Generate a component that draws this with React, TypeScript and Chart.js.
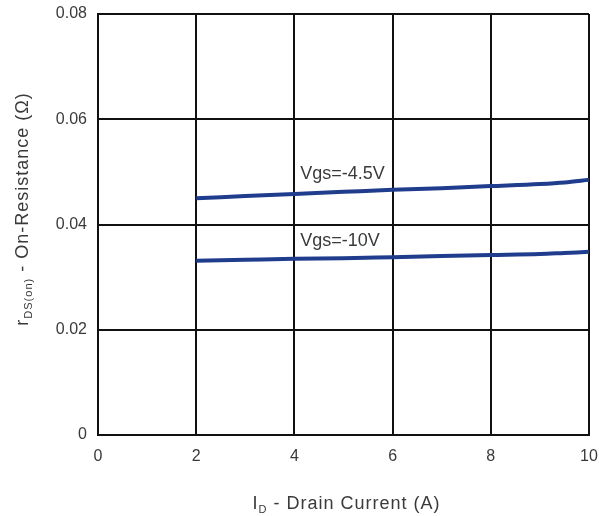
import React, { useEffect, useRef } from "react";
import { Chart, registerables } from "chart.js";

Chart.register(...registerables);

const currents = [2, 3, 4, 5, 6, 7, 8, 9, 9.5, 10];
const vgs45 = [0.0450, 0.0454, 0.0458, 0.0462, 0.0466, 0.0469, 0.0473, 0.0477, 0.0480, 0.0485];
const vgs10 = [0.0331, 0.0333, 0.0335, 0.0336, 0.0338, 0.0340, 0.0342, 0.0344, 0.0346, 0.0348];
const xTicks = [0, 2, 4, 6, 8, 10];
const yTicks = [0, 0.02, 0.04, 0.06, 0.08];
const seriesLabels = ["Vgs=-4.5V", "Vgs=-10V"];
const labelAnchors = [
  { x: 4.12, y: 0.0495 },
  { x: 4.12, y: 0.0369 },
];

const FONT = "'Liberation Sans', Arial, sans-serif";
const LINE_COLOR = "#1f3d8c";
const TEXT_COLOR = "#3a3a3a";

function drawSubText(ctx: any, parts: { t: string; sub: boolean }[], startX: number, baseY: number) {
  let p = startX;
  for (const part of parts) {
    ctx.font = part.sub ? `11px ${FONT}` : `18px ${FONT}`;
    ctx.fillText(part.t, p, part.sub ? baseY + 4 : baseY);
    p += ctx.measureText(part.t).width;
  }
}

function measureParts(ctx: any, parts: { t: string; sub: boolean }[]) {
  let w = 0;
  for (const part of parts) {
    ctx.font = part.sub ? `11px ${FONT}` : `18px ${FONT}`;
    w += ctx.measureText(part.t).width;
  }
  return w;
}

const xTitleParts = [
  { t: "I", sub: false },
  { t: "D", sub: true },
  { t: " - Drain Current (A)", sub: false },
];
const yTitleParts = [
  { t: "r", sub: false },
  { t: "DS(on)", sub: true },
  { t: " - On-Resistance (\u03A9)", sub: false },
];

const annotationPlugin = {
  id: "annots",
  afterDraw(chart: any) {
    const ctx = chart.ctx;
    const xs = chart.scales.x;
    const ys = chart.scales.y;
    const area = chart.chartArea;
    ctx.save();
    ctx.fillStyle = TEXT_COLOR;
    ctx.font = `18px ${FONT}`;
    ctx.textAlign = "left";
    ctx.textBaseline = "middle";
    seriesLabels.forEach((t, i) => {
      ctx.fillText(t, xs.getPixelForValue(labelAnchors[i].x), ys.getPixelForValue(labelAnchors[i].y));
    });

    ctx.textBaseline = "alphabetic";
    try {
      ctx.letterSpacing = "1px";
    } catch (e) {}
    const xw = measureParts(ctx, xTitleParts);
    const cx = (area.left + area.right) / 2 + 3;
    drawSubText(ctx, xTitleParts, cx - xw / 2, 509);

    const yw = measureParts(ctx, yTitleParts);
    ctx.translate(28, 209);
    ctx.rotate(-Math.PI / 2);
    drawSubText(ctx, yTitleParts, -yw / 2, 0);
    ctx.restore();
  },
};

const zeroPad = (s: any) => {
  s.paddingTop = 0;
  s.paddingBottom = 0;
  s.paddingLeft = 0;
  s.paddingRight = 0;
};

export default function App() {
  const ref = useRef<HTMLCanvasElement | null>(null);
  useEffect(() => {
    if (!ref.current) return;
    const chart = new Chart(ref.current, {
      type: "line",
      data: {
        datasets: [
          {
            label: seriesLabels[0],
            data: currents.map((x, i) => ({ x, y: vgs45[i] })),
            borderColor: LINE_COLOR,
            borderWidth: 4,
            pointRadius: 0,
            tension: 0.4,
            cubicInterpolationMode: "monotone",
          },
          {
            label: seriesLabels[1],
            data: currents.map((x, i) => ({ x, y: vgs10[i] })),
            borderColor: LINE_COLOR,
            borderWidth: 4,
            pointRadius: 0,
            tension: 0.4,
            cubicInterpolationMode: "monotone",
          },
        ],
      },
      options: {
        animation: false,
        responsive: false,
        maintainAspectRatio: false,
        layout: { padding: { top: 14, right: 10, left: 0, bottom: 0 } },
        plugins: { legend: { display: false }, tooltip: { enabled: false }, title: { display: false } },
        scales: {
          x: {
            type: "linear",
            min: 0,
            max: 10,
            afterBuildTicks: (s: any) => {
              s.ticks = xTicks.map((v) => ({ value: v }));
            },
            afterFit: (s: any) => {
              s.height = 81;
              zeroPad(s);
            },
            grid: { color: "#111", lineWidth: 2, drawTicks: false },
            border: { color: "#111", width: 2 },
            ticks: {
              padding: 12,
              color: TEXT_COLOR,
              font: { family: FONT, size: 16 },
              callback: (v: any) => String(v),
            },
          },
          y: {
            type: "linear",
            min: 0,
            max: 0.08,
            afterBuildTicks: (s: any) => {
              s.ticks = yTicks.map((v) => ({ value: v }));
            },
            afterFit: (s: any) => {
              s.width = 98;
              zeroPad(s);
            },
            grid: { color: "#111", lineWidth: 2, drawTicks: false },
            border: { color: "#111", width: 2 },
            ticks: {
              padding: 11,
              color: TEXT_COLOR,
              font: { family: FONT, size: 16 },
              callback: (v: any) => (v === 0 ? "0" : Number(v).toFixed(2)),
            },
          },
        },
      },
      plugins: [annotationPlugin],
    } as any);
    return () => chart.destroy();
  }, []);
  return (
    <div style={{ position: "absolute", left: 0, top: 0, width: 599, height: 516, background: "#fff" }}>
      <canvas ref={ref} width={599} height={516} style={{ width: 599, height: 516 }} />
    </div>
  );
}
